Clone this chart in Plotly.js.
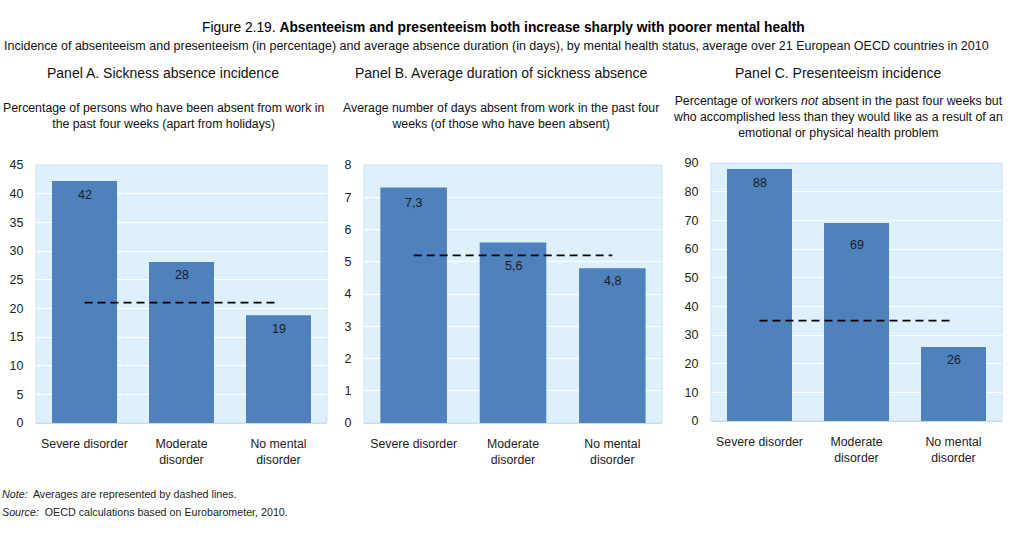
<!DOCTYPE html>
<html><head><meta charset="utf-8">
<script src="https://cdn.plot.ly/plotly-3.0.1.min.js"></script>
<style>html,body{margin:0;padding:0;background:#fff}#chart{width:1024px;height:534px}</style>
</head><body><div id="chart"></div>
<script>
const categories = ["Severe disorder", "Moderate<br>disorder", "No mental<br>disorder"];
const absenceIncidence = [42.2, 28.1, 18.8];
const absenceDuration = [7.3, 5.6, 4.8];
const presenteeism = [87.9, 69.1, 25.8];
const averages = [21, 5.2, 35];
const panelTitles = ["Panel A. Sickness absence incidence", "Panel B. Average duration of sickness absence", "Panel C. Presenteeism incidence"];
const panelNotes = [
  "Percentage of persons who have been absent from work in<br>the past four weeks (apart from holidays)",
  "Average number of days absent from work in the past four<br>weeks (of those who have been absent)",
  "Percentage of workers <i>not</i> absent in the past four weeks but<br>who accomplished less than they would like as a result of an<br>emotional or physical health problem"
];

const FONT = "Liberation Sans, Arial, sans-serif";
const BAR = "#4f81bd";
const series = [absenceIncidence, absenceDuration, presenteeism];
const decimals = [0, 1, 0];
// label offsets below bar top (px), per panel / bar
const labelOffsets = [[-14, -13, -14], [-15, -24, -13], [-14, -22, -13]];
const traces = [];
const annotations = [];
series.forEach((vals, i) => {
  const ax = i === 0 ? "" : String(i + 1);
  traces.push({
    type: "bar", x: categories, y: vals, xaxis: "x" + ax, yaxis: "y" + ax,
    marker: {color: BAR}, hoverinfo: "skip", showlegend: false
  });
  traces.push({
    type: "scatter", mode: "lines", x: [categories[0], categories[2]], y: [averages[i], averages[i]],
    xaxis: "x" + ax, yaxis: "y" + ax,
    line: {color: "#000", width: 1.8, dash: "8px,5px"}, hoverinfo: "skip", showlegend: false
  });
  vals.forEach((v, j) => {
    annotations.push({
      x: categories[j], y: v, xref: "x" + ax, yref: "y" + ax, showarrow: false,
      text: v.toFixed(decimals[i]).replace(".", ","), yshift: labelOffsets[i][j],
      xanchor: "center", yanchor: "middle",
      font: {family: FONT, size: 12.5, color: "#1a1a1a"}
    });
  });
});

const yTop = 1 - 165/534, yBot = 1 - 423/534;
const yTopC = 1 - 163/534, yBotC = 1 - 421/534;
const domX = [[36/1024, 327/1024], [364/1024, 662/1024], [711/1024, 1002/1024]];
const domY = [[yBot, yTop], [yBot, yTop], [yBotC, yTopC]];
const ranges = [[0, 45], [0, 8], [0, 90]];
const dticks = [5, 1, 10];

const layout = {
  width: 1024, height: 534, margin: {l: 0, r: 0, t: 0, b: 0},
  paper_bgcolor: "#fff", plot_bgcolor: "rgba(0,0,0,0)", bargap: 0.33, separators: ", ",
  font: {family: FONT, size: 12, color: "#222"},
  annotations: annotations, shapes: []
};
for (let i = 0; i < 3; i++) {
  const ax = i === 0 ? "" : String(i + 1);
  layout["xaxis" + ax] = {
    domain: domX[i], anchor: "y" + ax, type: "category",
    showgrid: false, zeroline: false, showline: true, linecolor: "#c8dcea", linewidth: 1,
    ticks: "outside", ticklen: 9, tickcolor: "rgba(0,0,0,0)",
    tickfont: {family: FONT, size: 12.3, color: "#222"}, fixedrange: true
  };
  layout["yaxis" + ax] = {
    domain: domY[i], anchor: "x" + ax, range: ranges[i], dtick: dticks[i], tick0: 0,
    showgrid: true, gridcolor: "#ffffff", gridwidth: 1, zeroline: false, showline: false,
    ticks: "outside", ticklen: 9, tickcolor: "rgba(0,0,0,0)",
    tickfont: {family: FONT, size: 12.5, color: "#222"}, fixedrange: true
  };
  layout.shapes.push({type: "rect", xref: "paper", yref: "paper", layer: "below",
    x0: domX[i][0], x1: domX[i][1], y0: domY[i][0], y1: domY[i][1],
    fillcolor: "#ddf0fc", line: {color: "#cfe2ee", width: 1}});
}

const px = (x, y) => ({x: x/1024, y: 1 - y/534});
function ann(text, x, y, opts) {
  const p = px(x, y);
  layout.annotations.push(Object.assign({text, x: p.x, y: p.y, xref: "paper", yref: "paper",
    showarrow: false, xanchor: "center", yanchor: "middle",
    font: {family: FONT, size: 12, color: "#111"}}, opts || {}));
}
ann("Figure 2.19. <b>Absenteeism and presenteeism both increase sharply with poorer mental health</b>", 503, 27,
  {font: {family: FONT, size: 13.8, color: "#000"}});
ann("Incidence of absenteeism and presenteeism (in percentage) and average absence duration (in days), by mental health status, average over 21 European OECD countries in 2010", 496, 46,
  {font: {family: FONT, size: 12.5, color: "#111"}});
const titleX = [163, 501, 838];
const noteY = [116, 116, 117];
for (let i = 0; i < 3; i++) {
  ann(panelTitles[i], titleX[i], 73, {font: {family: FONT, size: 14, color: "#111"}});
  ann(panelNotes[i], titleX[i], noteY[i], {font: {family: FONT, size: 12.3, color: "#111"}});
}
ann("<i>Note:</i>  Averages are represented by dashed lines.", 0, 494, {xanchor: "left", font: {family: FONT, size: 10.7, color: "#222"}});
ann("<i>Source:</i>  OECD calculations based on Eurobarometer, 2010.", 0, 512, {xanchor: "left", font: {family: FONT, size: 10.7, color: "#222"}});

Plotly.newPlot("chart", traces, layout, {displayModeBar: false, staticPlot: true});
</script></body></html>
